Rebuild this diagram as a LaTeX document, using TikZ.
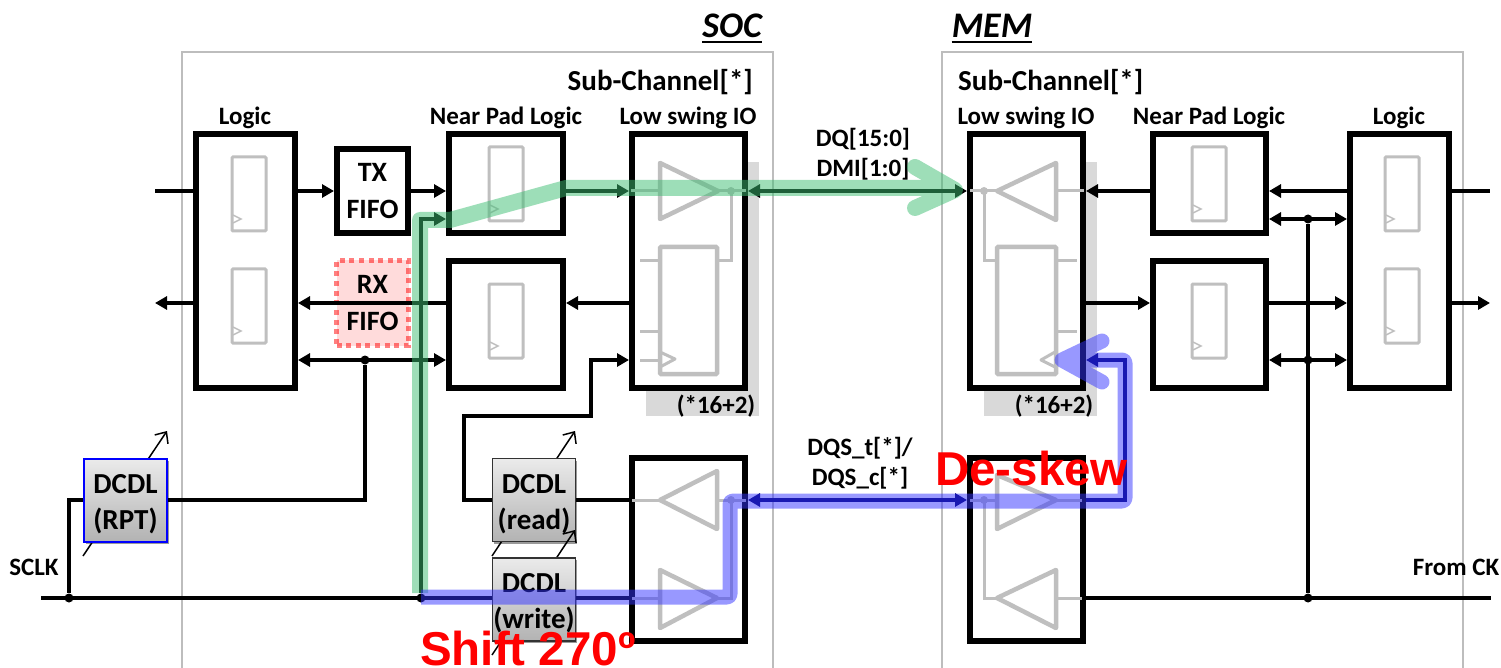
\documentclass[tikz,border=0pt]{standalone}
\usepackage{fontspec}
\setmainfont{Carlito}
\newfontfamily\redfont{Liberation Sans}
\usetikzlibrary{arrows.meta,shadows}
\definecolor{inkgray}{HTML}{BFBFBF}
\definecolor{framegray}{HTML}{BDBDBD}
\definecolor{backgray}{HTML}{D9D9D9}
\definecolor{navyline}{HTML}{000066}
\definecolor{greenband}{HTML}{3DBE72}
\definecolor{blueband}{HTML}{3333FF}
\tikzset{
  block/.style={draw, fill=white, line width=6pt, inner sep=0pt, font=\fontsize{28}{37}\selectfont\bfseries, align=center},
  rxblock/.style={draw=red, draw opacity=.5, fill=red, fill opacity=.14, text opacity=1, line width=5pt,
    dash pattern=on 5pt off 4.6pt, inner sep=0pt, font=\fontsize{28}{37}\selectfont\bfseries, align=center},
  dcdl/.style={draw=black!80, line width=1.5pt, top color=black!8, bottom color=black!30, inner sep=0pt,
    minimum width=83pt, minimum height=83pt, text height=63pt, font=\fontsize{29}{36}\selectfont\bfseries, align=center,
    drop shadow={shadow xshift=1.5pt, shadow yshift=-2pt, opacity=.4, fill=black}},
  wire/.style={line width=3.2pt},
  tipf/.style={-{Triangle[length=12pt,width=13pt]}},
  tipb/.style={{Triangle[length=12pt,width=13pt]}-},
  tipfb/.style={{Triangle[length=12pt,width=13pt]}-{Triangle[length=12pt,width=13pt]}},
  tune/.style={line width=1.5pt, -{Straight Barb[length=9pt,width=16pt]}},
  dot/.style={circle, fill=black, inner sep=0pt, minimum size=9pt},
  graydot/.style={circle, fill=inkgray, inner sep=0pt, minimum size=8pt},
  ffcell/.style={draw=inkgray, line width=3pt, rounded corners=1pt},
  gate/.style={draw=inkgray, line width=4.5pt, line join=round},
  stub/.style={draw=inkgray, line width=3pt},
  frame/.style={draw=framegray, line width=1.5pt},
  lbl/.style={font=\fontsize{25}{29}\selectfont\bfseries, inner sep=0pt},
  big/.style={font=\fontsize{29}{33}\selectfont\bfseries, inner sep=0pt},
  head/.style={font=\fontsize{36}{40}\selectfont\bfseries\itshape, inner sep=0pt},
  callout/.style={text=red, font=\redfont\fontsize{47.5}{50}\selectfont\bfseries, inner sep=0pt, anchor=base west},
  greenpath/.style={draw=greenband, line width=16pt},
  bluepath/.style={draw=blueband, line width=15pt},
}
\begin{document}
\begin{tikzpicture}[x=1pt,y=-1pt]
  \useasboundingbox (0,0) rectangle (1501,668);
  % frames
  \draw[frame] (182,668) -- (182,52) -- (773,52) -- (773,668);
  \draw[frame] (942,668) -- (942,52) -- (1463,52) -- (1463,668);
  \fill[backgray] (646,162) rectangle (759,416);
  \fill[backgray] (984,162) rectangle (1097,416);
  % rows
  \coordinate (rowa) at (0,191);
  \coordinate (rowb) at (0,219);
  \coordinate (rowc) at (0,303);
  \coordinate (rowd) at (0,360);
  \coordinate (rowe) at (0,500);
  \coordinate (rowf) at (0,598);
  % blocks
  \node[block, minimum width=99pt, minimum height=254pt] (logicS) at (245.5,261) {};
  \node[block, minimum width=71pt, minimum height=84pt] (txfifo) at (372.5,191) {TX\\FIFO};
  \node[rxblock, minimum width=72pt, minimum height=85pt] (rxfifo) at (372.5,303) {RX\\FIFO};
  \node[block, minimum width=114pt, minimum height=99pt] (padSa) at (506,183.5) {};
  \node[block, minimum width=114pt, minimum height=127pt] (padSb) at (506,324.5) {};
  \node[block, minimum width=113pt, minimum height=254pt] (ioS) at (688.5,261) {};
  \node[block, minimum width=113pt, minimum height=183pt] (strobeS) at (688.5,549.5) {};
  \node[block, minimum width=113pt, minimum height=254pt] (ioM) at (1026.5,261) {};
  \node[block, minimum width=113pt, minimum height=183pt] (strobeM) at (1026.5,549.5) {};
  \node[block, minimum width=113pt, minimum height=99pt] (padMa) at (1209.5,183.5) {};
  \node[block, minimum width=113pt, minimum height=127pt] (padMb) at (1209.5,324.5) {};
  \node[block, minimum width=99pt, minimum height=254pt] (logicM) at (1399.5,261) {};
  % registers
  \foreach \x/\y in {232/157,232/269,489/147,489/284,1192/147,1192/284,1385/157,1385/269} {
    \draw[ffcell] (\x,\y) rectangle ++(34,74);
    \draw[inkgray, line width=1.5pt] (\x+1,\y+66) -- ++(8,-4) -- ++(-8,-4);
  }
  % io cells
  \draw[gate] (660,163) -- (718,191) -- (660,219) -- cycle;
  \draw[ffcell, line width=4.5pt] (660,247) rectangle (717,374);
  \draw[stub] (631,191) -- (660,191) (718,191) -- (746,191);
  \draw[stub] (731,191) -- (731,261) -- (717,261);
  \draw[stub] (640,261) -- (660,261) (640,331) -- (660,331) (640,360) -- (660,360);
  \draw[inkgray, line width=3pt, line join=round] (660,352) -- (675,359) -- (660,367);
  \node[graydot] (tapS) at (731,191) {};
  \draw[gate] (717,471) -- (660,500) -- (717,529) -- cycle;
  \draw[gate] (660,570) -- (717,598) -- (660,628) -- cycle;
  \draw[stub] (632,500) -- (660,500) (717,500) -- (746,500) (632,598) -- (660,598) (717,598) -- (731,598) -- (731,500);
  \node[graydot] (tapSb) at (731,500) {};
  \draw[gate] (1056,163) -- (997,191) -- (1056,220) -- cycle;
  \draw[ffcell, line width=4.5pt] (997,247) rectangle (1056,374);
  \draw[stub] (970,191) -- (997,191) (1056,191) -- (1084,191);
  \draw[stub] (984,191) -- (984,261) -- (997,261);
  \draw[stub] (1056,261) -- (1077,261) (1056,331) -- (1077,331);
  \draw[inkgray, line width=3pt, line join=round] (1055,352) -- (1041,360) -- (1055,367);
  \node[graydot] (tapM) at (984,191) {};
  \draw[gate] (997,475) -- (1056,500) -- (997,529) -- cycle;
  \draw[gate] (1056,570) -- (997,598) -- (1056,628) -- cycle;
  \draw[stub] (970,500) -- (997,500) (1056,500) -- (1082,500) (1056,598) -- (1082,598) (984,500) -- (984,598) -- (997,598);
  \node[graydot] (tapMb) at (984,500) {};
  % junctions
  \node[dot] (jsclk) at (69,598) {};
  \node[dot] (jrpt) at (365,360) {};
  \node[dot] (jwrite) at (421,598) {};
  \node[dot] (jcka) at (1308,219) {};
  \node[dot] (jckb) at (1308,360) {};
  \node[dot] (jckc) at (1308,598) {};
  % free ends
  \coordinate (inS) at (155,191);
  \coordinate (outS) at (155,303);
  \coordinate (sclk) at (41,598);
  \coordinate (inM) at (1490,191);
  \coordinate (outM) at (1490,303);
  \coordinate (ck) at (1491,598);
  \coordinate (rlow) at (83,556);
  \coordinate (rhigh) at (167,431);
  \coordinate (alow) at (492,556);
  \coordinate (ahigh) at (575,431);
  \coordinate (blow) at (492,655);
  \coordinate (bhigh) at (575,530);
  % dcdl
  \draw[tune] (rlow) -- (rhigh);
  \node[dcdl, draw=blue, line width=2pt] (dcdlR) at (125.5,500) {DCDL\\(RPT)};
  \draw[tune] (alow) -- (ahigh);
  \node[dcdl] (dcdlA) at (534,500) {DCDL\\(read)};
  \draw[tune] (blow) -- (bhigh);
  \node[dcdl] (dcdlB) at (534,599.5) {DCDL\\(write)};
  % soc wires
  \draw[wire] (inS) -- (logicS.west |- rowa);
  \draw[wire,tipb] (outS) -- (logicS.west |- rowc);
  \draw[wire,tipf] (logicS.east |- rowa) -- (txfifo.west |- rowa);
  \draw[wire,tipf] (txfifo.east |- rowa) -- (padSa.west |- rowa);
  \draw[wire,tipb] (logicS.east |- rowc) -- (padSb.west |- rowc);
  \draw[wire,tipfb] (logicS.east |- rowd) -- (padSb.west |- rowd);
  \draw[wire,tipf] (padSa.east |- rowa) -- (ioS.west |- rowa);
  \draw[wire,tipf] (ioS.west |- rowc) -- (padSb.east |- rowc);
  \draw[wire,tipf] (jwrite) -- (421,219) -- (padSa.west |- rowb);
  \draw[wire] (jrpt) -- (365,500) -- (dcdlR.east |- rowe);
  \draw[wire] (dcdlR.west |- rowe) -- (69,500) -- (jsclk);
  \draw[wire] (sclk) -- (dcdlB.west |- rowf);
  \draw[wire] (dcdlB.east |- rowf) -- (strobeS.west |- rowf);
  \draw[wire,tipf] (dcdlA.west |- rowe) -- (464,500) -- (464,416) -- (591,416) -- (591,360) -- (ioS.west |- rowd);
  \draw[wire] (dcdlA.east |- rowe) -- (strobeS.west |- rowe);
  % channel wires
  \draw[wire,tipfb] (ioS.east |- rowa) -- (ioM.west |- rowa);
  \draw[wire,navyline,tipfb] (strobeS.east |- rowe) -- (strobeM.west |- rowe);
  \draw[wire,navyline,tipf] (strobeM.east |- rowe) -- (1125,500) -- (1125,360) -- (ioM.east |- rowd);
  % mem wires
  \draw[wire,tipf] (padMa.west |- rowa) -- (ioM.east |- rowa);
  \draw[wire,tipf] (ioM.east |- rowc) -- (padMb.west |- rowc);
  \draw[wire,tipf] (logicM.west |- rowa) -- (padMa.east |- rowa);
  \draw[wire,tipfb] (padMa.east |- rowb) -- (logicM.west |- rowb);
  \draw[wire,tipf] (padMb.east |- rowc) -- (logicM.west |- rowc);
  \draw[wire,tipfb] (padMb.east |- rowd) -- (logicM.west |- rowd);
  \draw[wire] (logicM.east |- rowa) -- (inM);
  \draw[wire,tipf] (logicM.east |- rowc) -- (outM);
  \draw[wire] (jcka) -- (jckc);
  \draw[wire] (strobeM.east |- rowf) -- (ck);
  % labels
  \node[head] (soc) at (732,26) {SOC};
  \node[head] (mem) at (992,26) {MEM};
  \draw[line width=2pt] ([yshift=-4pt]soc.south west) -- ([yshift=-4pt]soc.south east);
  \draw[line width=2pt] ([yshift=-4pt]mem.south west) -- ([yshift=-4pt]mem.south east);
  \node[big, anchor=east] (subS) at (753,82) {Sub-Channel[*]};
  \node[big, anchor=west] (subM) at (958,82) {Sub-Channel[*]};
  \node[lbl] (tlogicS) at (245,118) {Logic};
  \node[lbl] (tpadS) at (506,118) {Near Pad Logic};
  \node[lbl] (tioS) at (688,118) {Low swing IO};
  \node[lbl] (tioM) at (1026,118) {Low swing IO};
  \node[lbl] (tpadM) at (1209,118) {Near Pad Logic};
  \node[lbl] (tlogicM) at (1399,118) {Logic};
  \node[lbl] (dq) at (863,139) {DQ[15:0]};
  \node[lbl] (dmi) at (863,169) {DMI[1:0]};
  \node[lbl] (dqst) at (860,448) {DQS\_t[*]/};
  \node[lbl] (dqsc) at (860,478) {DQS\_c[*]};
  \node[lbl] (nS) at (716,406) {(*16+2)};
  \node[lbl] (nM) at (1054,406) {(*16+2)};
  \node[lbl] (tsclk) at (34,567) {SCLK};
  \node[lbl] (tck) at (1456,567) {From CK};
  % paths
  \begin{scope}[transparency group, opacity=.5]
    \draw[greenpath, line join=round] (420,593) -- (420,220) -- (450,220) -- (566,188) -- (950,188);
    \draw[greenpath, line cap=round, line join=round] (915,167) -- (955,190) -- (915,208);
  \end{scope}
  \begin{scope}[transparency group, opacity=.5]
    \draw[bluepath, line join=round, rounded corners=3pt] (421,597) -- (730,597) -- (730,501) -- (1125,501) -- (1125,360) -- (1070,360);
    \draw[bluepath, line cap=round, line join=round] (1102,341) -- (1062,360) -- (1102,382);
  \end{scope}
  % callouts
  \node[callout] (shift) at (420,665) {Shift 270º};
  \node[callout] (deskew) at (935,485) {De-skew};
\end{tikzpicture}
\end{document}
